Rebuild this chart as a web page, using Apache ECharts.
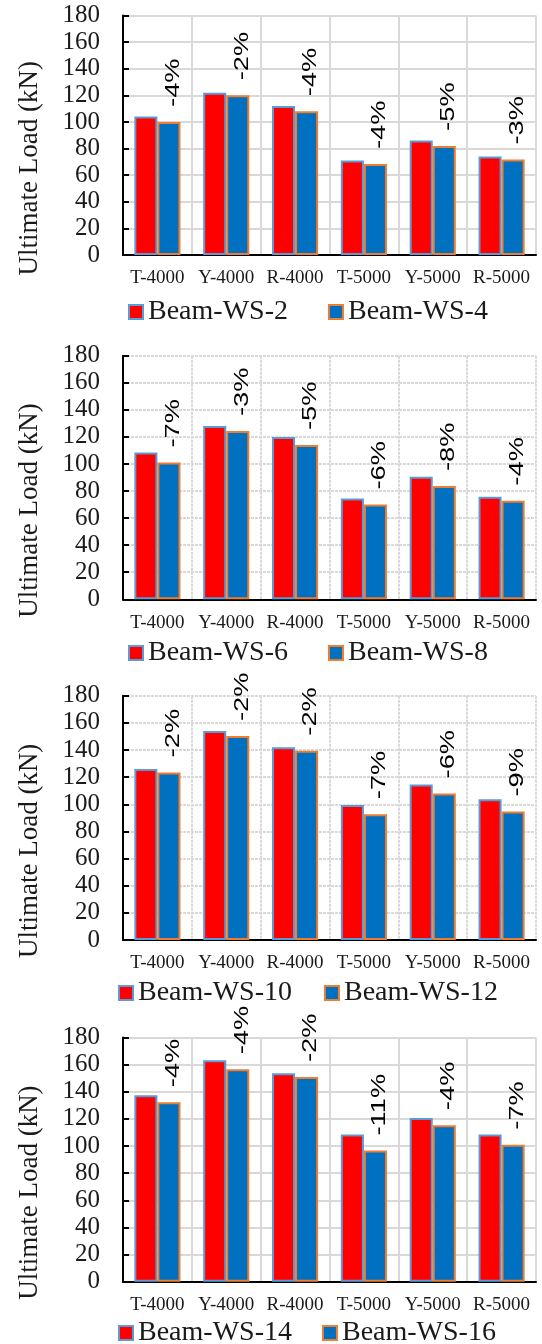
<!DOCTYPE html>
<html>
<head>
<meta charset="utf-8">
<title>Ultimate Load</title>
<script src="https://cdn.jsdelivr.net/npm/echarts@6/dist/echarts.min.js"></script>
<style>
  html, body { margin: 0; padding: 0; background: #fff; }
  #chart { width: 542px; height: 1344px; }
</style>
</head>
<body>
<div id="chart"></div>
<script>
// Specimen groups along the x axis
var categories = ['T-4000', 'Y-4000', 'R-4000', 'T-5000', 'Y-5000', 'R-5000'];
var yTicks = [0, 20, 40, 60, 80, 100, 120, 140, 160, 180];

// Panel 1
var names1 = ['Beam-WS-2', 'Beam-WS-4'];
var red1 = [104, 122, 112, 71, 86, 74];
var blue1 = [100, 120, 108, 68.4, 82, 71.8];
var change1 = ['-4%', '-2%', '-4%', '-4%', '-5%', '-3%'];

// Panel 2
var names2 = ['Beam-WS-6', 'Beam-WS-8'];
var red2 = [108.5, 128, 120, 74.4, 90.6, 75.8];
var blue2 = [101, 124.3, 114, 70, 83.7, 72.9];
var change2 = ['-7%', '-3%', '-5%', '-6%', '-8%', '-4%'];

// Panel 3
var names3 = ['Beam-WS-10', 'Beam-WS-12'];
var red3 = [126, 154, 142, 99.5, 114.6, 103.7];
var blue3 = [123.5, 150.3, 139.5, 92.6, 108, 94.6];
var change3 = ['-2%', '-2%', '-2%', '-7%', '-6%', '-9%'];

// Panel 4
var names4 = ['Beam-WS-14', 'Beam-WS-16'];
var red4 = [137.5, 163.2, 153.6, 108.5, 120.6, 108.5];
var blue4 = [132.2, 156.6, 150.8, 96.7, 115.4, 101];
var change4 = ['-4%', '-4%', '-2%', '-11%', '-4%', '-7%'];

var panels = [
  { names: names1, red: red1, blue: blue1, change: change1, top: 15.5, height: 239.5, legendTop: 293, legendLeft: 123, legendGap: 40, grid: 'solid' },
  { names: names2, red: red2, blue: blue2, change: change2, top: 355.7, height: 243.6, legendTop: 634, legendLeft: 123, legendGap: 40, grid: [3, 1] },
  { names: names3, red: red3, blue: blue3, change: change3, top: 695.7, height: 244.3, legendTop: 974, legendLeft: 113, legendGap: 32, grid: [3, 1] },
  { names: names4, red: red4, blue: blue4, change: change4, top: 1037.5, height: 244.2, legendTop: 1314, legendLeft: 113, legendGap: 30, grid: 'solid' }
];

var SERIF = '"Liberation Serif", "Times New Roman", serif';
var SANS = '"Liberation Sans", Arial, sans-serif';
var RED = '#FF0000', BLUE = '#0070C0';
var RED_EDGE = '#5B9BD5', BLUE_EDGE = '#ED7D31';
var GRID_LEFT = 123, GRID_RIGHT = 6;
var CAT_GAP = 0.33;

var option = {
  animation: false,
  backgroundColor: '#fff',
  grid: [], xAxis: [], yAxis: [], series: [], legend: [], graphic: []
};

panels.forEach(function (p, i) {
  option.grid.push({ left: GRID_LEFT, right: GRID_RIGHT, top: p.top, height: p.height, containLabel: false });

  option.xAxis.push({
    type: 'category', gridIndex: i, data: categories,
    axisLine: { lineStyle: { color: '#000', width: 2 } },
    axisTick: { inside: true, length: 4, interval: 0, lineStyle: { color: '#000', width: 2 } },
    axisLabel: { interval: 0, margin: 14, fontFamily: SERIF, fontSize: 19, color: '#1a1a1a' },
    splitLine: { show: true, interval: 0, lineStyle: { color: '#D9D9D9', width: 2, type: p.grid } }
  });

  option.yAxis.push({
    type: 'value', gridIndex: i, min: yTicks[0], max: yTicks[yTicks.length - 1],
    interval: yTicks[1] - yTicks[0],
    axisLine: { show: true, lineStyle: { color: '#000', width: 2 } },
    axisTick: { show: true, inside: true, length: 6, lineStyle: { color: '#000', width: 2 } },
    axisLabel: { margin: 23, fontFamily: SERIF, fontSize: 25, color: '#1a1a1a' },
    splitLine: { show: true, lineStyle: { color: '#D9D9D9', width: 2, type: p.grid } }
  });

  option.series.push({
    name: p.names[0], type: 'bar', xAxisIndex: i, yAxisIndex: i, data: p.red,
    barGap: '0%', barCategoryGap: (CAT_GAP * 100) + '%',
    itemStyle: { color: RED, borderColor: RED_EDGE, borderWidth: 2 }
  });
  option.series.push({
    name: p.names[1], type: 'bar', xAxisIndex: i, yAxisIndex: i, data: p.blue,
    barGap: '0%', barCategoryGap: (CAT_GAP * 100) + '%',
    itemStyle: { color: BLUE, borderColor: BLUE_EDGE, borderWidth: 2 }
  });

  // Rotated percentage-change labels above each second bar
  (function (labels) {
    option.series.push({
      type: 'custom', xAxisIndex: i, yAxisIndex: i, z: 5, silent: true, clip: false,
      data: p.blue.map(function (v, k) { return [k, v]; }),
      encode: { x: 0, y: 1 },
      renderItem: function (params, api) {
        var pt = api.coord([api.value(0), api.value(1)]);
        var band = api.size([1, 0])[0];
        var barW = band * (1 - CAT_GAP) / 2;
        return {
          type: 'text',
          x: pt[0] + barW / 2 + 4,
          y: pt[1] - 15,
          rotation: Math.PI / 2,
          scaleX: 1.3,
          style: {
            text: labels[params.dataIndex],
            font: '21px ' + SANS,
            fill: '#000',
            align: 'left',
            verticalAlign: 'middle'
          }
        };
      }
    });
  })(p.change);

  option.legend.push({
    data: p.names, orient: 'horizontal', left: p.legendLeft, top: p.legendTop,
    itemWidth: 14, itemHeight: 14, itemGap: p.legendGap, icon: 'rect',
    textStyle: { fontFamily: SERIF, fontSize: 28, color: '#1a1a1a' },
    selectedMode: false
  });

  option.graphic.push({
    type: 'text', x: 30, y: p.top + p.height / 2 + 33, rotation: Math.PI / 2,
    style: {
      text: 'Ultimate Load (kN)', font: '27px ' + SERIF, fill: '#1a1a1a',
      align: 'center', verticalAlign: 'middle'
    }
  });
});

var chart = echarts.init(document.getElementById('chart'), null, { renderer: 'canvas' });
chart.setOption(option);
</script>
</body>
</html>
